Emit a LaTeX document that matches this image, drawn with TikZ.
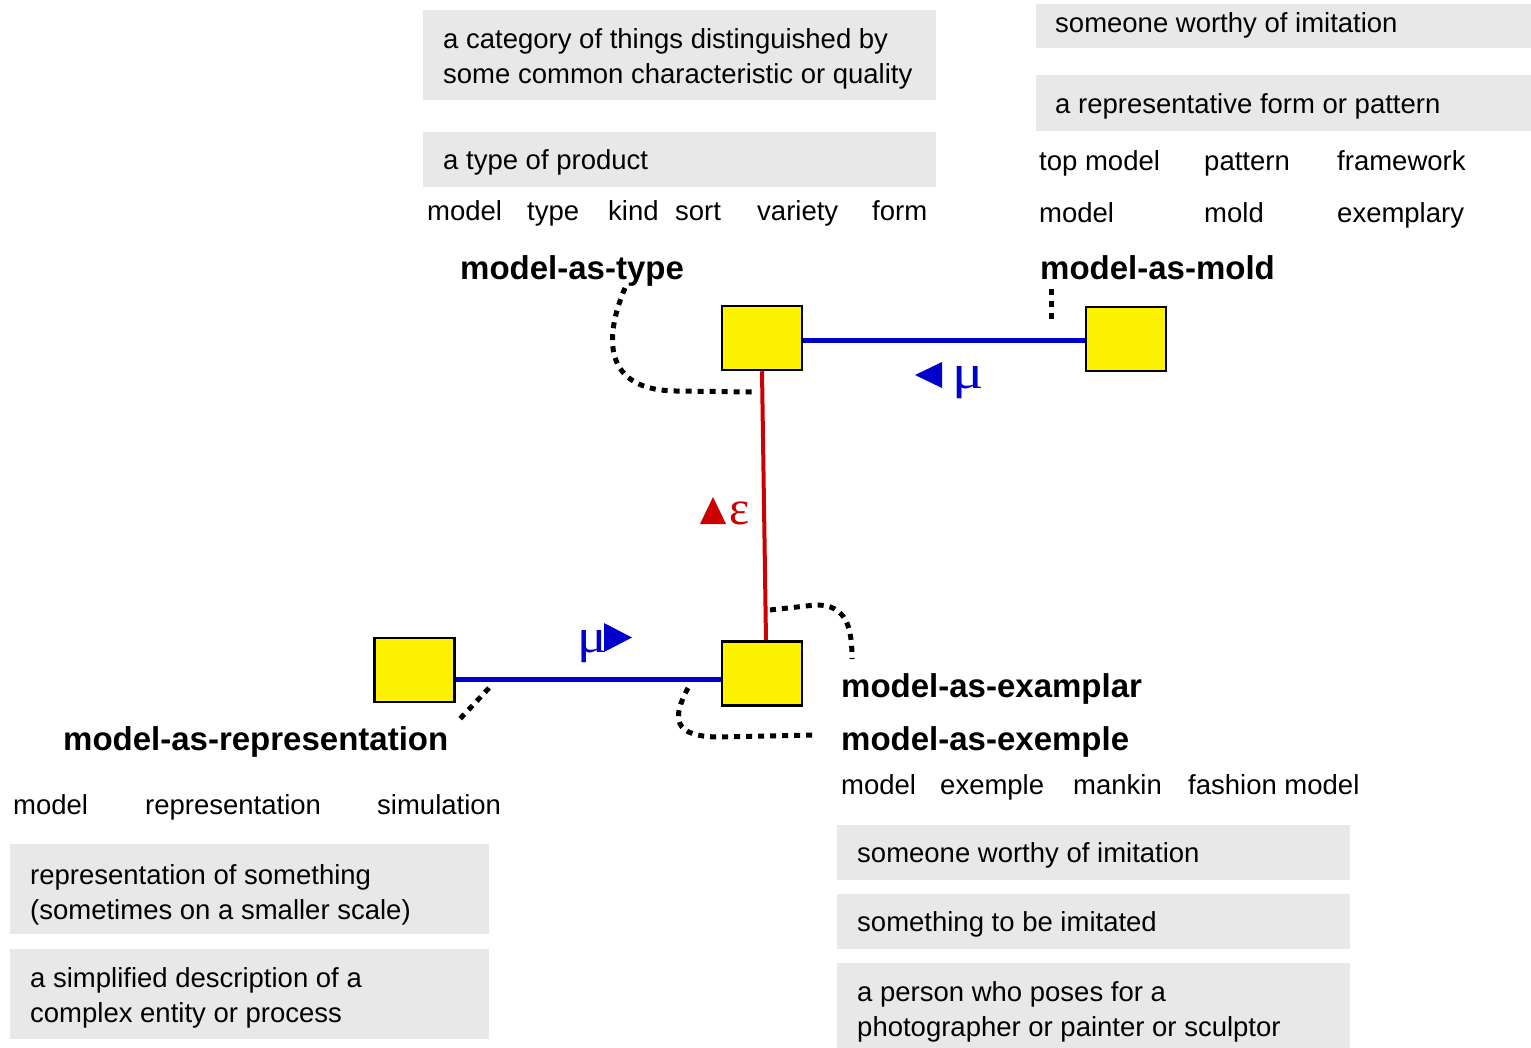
\documentclass[tikz,border=0pt]{standalone}
\usepackage{fontspec}
\usepackage{graphicx}
\setmainfont{Liberation Sans}
\newfontfamily\greekfont{Liberation Serif}
\definecolor{boxgray}{RGB}{232,232,232}
\definecolor{mublue}{RGB}{0,0,204}
\definecolor{epsred}{RGB}{204,0,0}
\begin{document}
\begin{tikzpicture}[x=1pt,y=-1pt,
  txt/.style={anchor=base west, inner sep=0pt, font=\fontsize{27.5}{35}\selectfont},
  lbl/.style={anchor=base west, inner sep=0pt, font=\bfseries\fontsize{33}{38}\selectfont},
  gbox/.style={fill=boxgray},
  sq/.style={draw=black, line width=2.5pt, fill=yellow, minimum width=80pt, minimum height=64pt, inner sep=0pt},
  greek/.style={anchor=base west, inner sep=0pt, font=\greekfont\fontsize{48}{48}\selectfont},
  bluel/.style={draw=mublue, line width=5pt},
  redl/.style={draw=epsred, line width=4pt},
  dotl/.style={draw=black, line width=5pt, dash pattern=on 6pt off 6pt}
]
\useasboundingbox (0,0) rectangle (1531,1047);

% ---------- gray definition boxes ----------
\fill[gbox] (423,10) rectangle (936,100);
\fill[gbox] (423,132) rectangle (936,187);
\fill[gbox] (1036,4) rectangle (1531,48);
\fill[gbox] (1036,75) rectangle (1531,131);
\fill[gbox] (10,844) rectangle (489,934);
\fill[gbox] (10,949) rectangle (489,1039);
\fill[gbox] (837,825) rectangle (1350,880);
\fill[gbox] (837,894) rectangle (1350,949);
\fill[gbox] (837,963) rectangle (1350,1060);

% ---------- top centre ----------
\node[txt] (t1a) at (443,48) {a category of things distinguished by};
\node[txt] (t1b) at (443,83) {some common characteristic or quality};
\node[txt] (t2) at (443,169) {a type of product};
\node[txt] (w1) at (427,220) {model};
\node[txt] (w2) at (527,220) {type};
\node[txt] (w3) at (608,220) {kind};
\node[txt] (w4) at (675,220) {sort};
\node[txt] (w5) at (757,220) {variety};
\node[txt] (w6) at (872,220) {form};
\node[lbl] (ltype) at (460,279) {model-as-type};

% ---------- top right ----------
\node[txt] (r1) at (1055,32) {someone worthy of imitation};
\node[txt] (r2) at (1055,113) {a representative form or pattern};
\node[txt] (rw1) at (1039,170) {top model};
\node[txt] (rw2) at (1204,170) {pattern};
\node[txt] (rw3) at (1337,170) {framework};
\node[txt] (rw4) at (1039,222) {model};
\node[txt] (rw5) at (1204,222) {mold};
\node[txt] (rw6) at (1337,222) {exemplary};
\node[lbl] (lmold) at (1040,279) {model-as-mold};

% ---------- bottom left ----------
\node[lbl] (lrep) at (63,750) {model-as-representation};
\node[txt] (bw1) at (13,814) {model};
\node[txt] (bw2) at (145,814) {representation};
\node[txt] (bw3) at (377,814) {simulation};
\node[txt] (b1a) at (30,884) {representation of something};
\node[txt] (b1b) at (30,919) {(sometimes on a smaller scale)};
\node[txt] (b2a) at (30,987) {a simplified description of a};
\node[txt] (b2b) at (30,1022) {complex entity or process};

% ---------- bottom right ----------
\node[lbl] (lexa) at (841,697) {model-as-examplar};
\node[lbl] (lexe) at (841,750) {model-as-exemple};
\node[txt] (ew1) at (841,794) {model};
\node[txt] (ew2) at (940,794) {exemple};
\node[txt] (ew3) at (1073,794) {mankin};
\node[txt] (ew4) at (1188,794) {fashion model};
\node[txt] (e1) at (857,862) {someone worthy of imitation};
\node[txt] (e2) at (857,931) {something to be imitated};
\node[txt] (e3a) at (857,1001) {a person who poses for a};
\node[txt] (e3b) at (857,1036) {photographer or painter or sculptor};

% ---------- squares ----------
\node[sq] (A) at (762,338) {};
\node[sq] (B) at (1126,339) {};
\node[sq] (C) at (762,673.5) {};
\node[sq] (D) at (414.5,670) {};

% ---------- connectors ----------
\draw[bluel] (A.east |- 0,340) -- (B.west |- 0,340);
\draw[redl] (A.south) -- ([xshift=4pt]C.north);
\draw[bluel] (D.east |- 0,679) -- (C.west |- 0,679);
\node[sq] at (A) {};
\node[sq] at (B) {};
\node[sq] at (C) {};
\node[sq] at (D) {};

% ---------- edge labels ----------
\fill[mublue] (942,362) -- (942,388) -- (915,375) -- cycle;
\node[greek, text=mublue] (mu1) at (952,388) {\scalebox{1.22}[1]{μ}};
\node[greek, text=mublue] (mu2) at (577,652) {\scalebox{1.15}[1]{μ}};
\fill[mublue] (604,623) -- (632,637.5) -- (604,652) -- cycle;
\fill[epsred] (700,524) -- (726,524) -- (713,497) -- cycle;
\node[greek, text=epsred] (eps) at (729,524) {ε};

% ---------- dotted leaders ----------
\coordinate (dt1) at (625,288);
\coordinate (dt2) at (752,392);
\draw[dotl] (dt1) .. controls (605,335) and (600,392) .. (680,391) -- (dt2);
\coordinate (dm1) at (1051,289);
\coordinate (dm2) at (1051,321);
\draw[dotl] (dm1) -- (dm2);
\coordinate (dx1) at (770,610);
\coordinate (dx2) at (852,659);
\draw[dotl] (dx1) -- (815,605) .. controls (848,604) and (852,630) .. (dx2);
\coordinate (dy1) at (688,688);
\coordinate (dy2) at (814,735);
\draw[dotl] (dy1) .. controls (672,718) and (672,737) .. (720,737) -- (dy2);
\coordinate (dr1) at (489,688);
\coordinate (dr2) at (458,721);
\draw[dotl] (dr1) -- (dr2);
\end{tikzpicture}
\end{document}
